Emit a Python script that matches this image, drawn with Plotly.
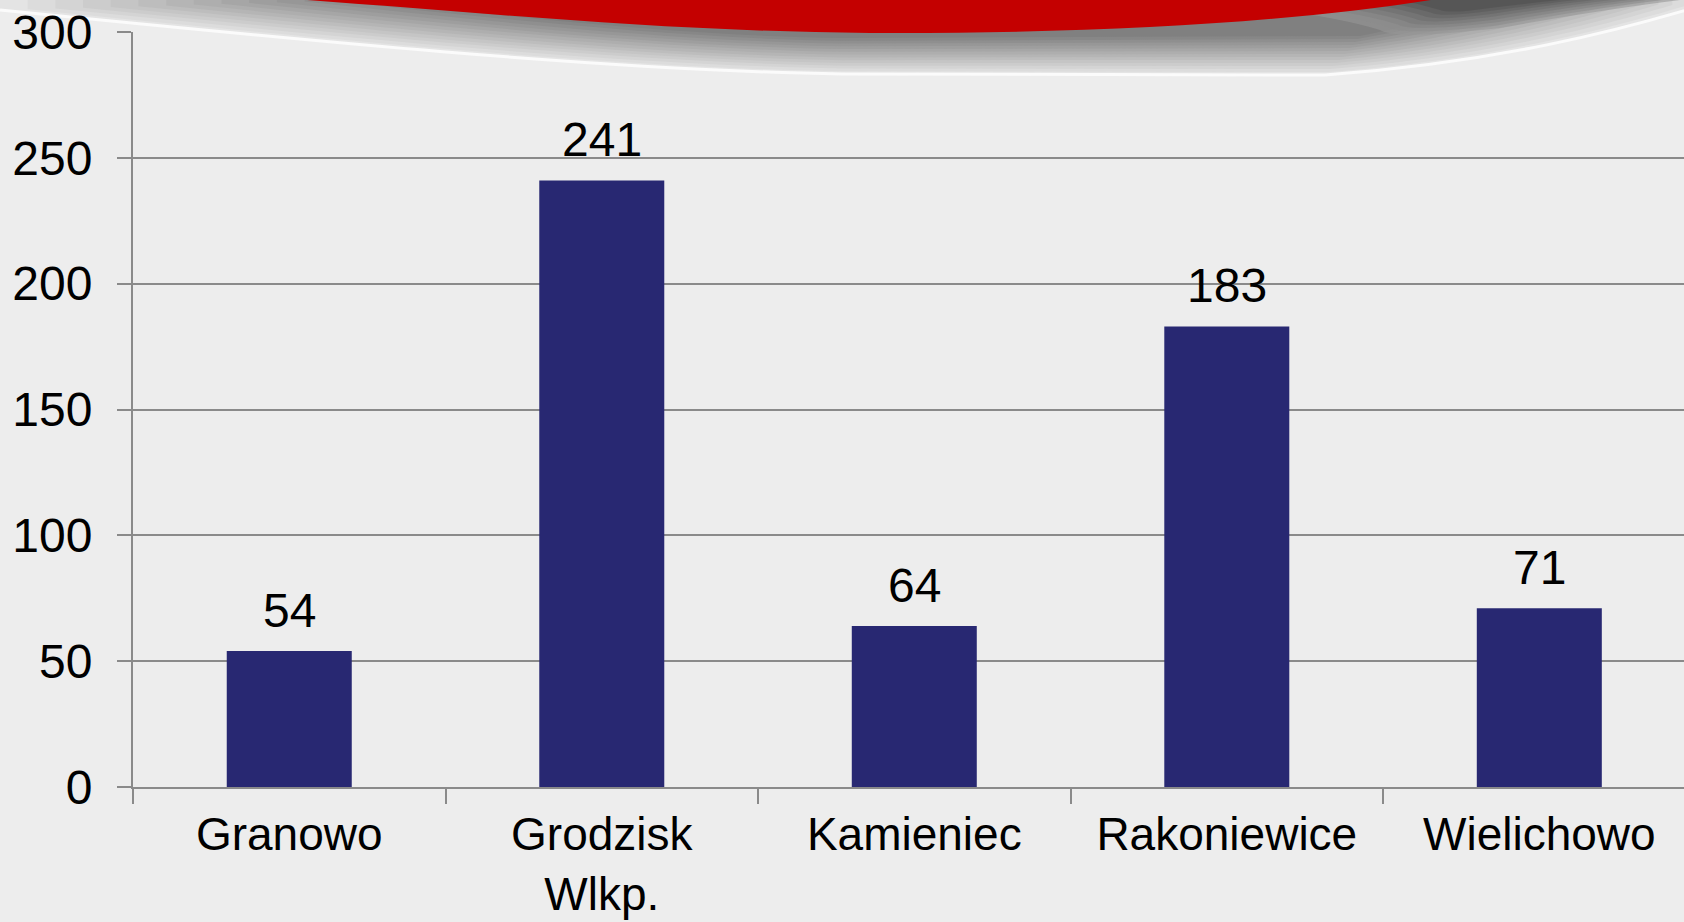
import plotly.graph_objects as go

categories = ["Granowo", "Grodzisk<br>Wlkp.", "Kamieniec", "Rakoniewice", "Wielichowo"]
values = [54, 241, 64, 183, 71]
y_ticks = [0, 50, 100, 150, 200, 250, 300]

W, H = 1684, 922
L, R, T, B = 133, 0, 32, 135
PW, PH = W - L - R, H - T - B
FONT = "Liberation Sans, Arial, sans-serif"


def px(x):
    return (x - L) / PW


def py(y):
    return (H - B - y) / PH


def path(cmds):
    out = []
    for c in cmds:
        if isinstance(c, str):
            out.append(c)
        else:
            out.append(f"{px(c[0]):.5f},{py(c[1]):.5f}")
    return " ".join(out)


shapes = []


def add(cmds, fill, opacity=1.0, line=None, lw=0):
    shapes.append(dict(
        type="path", xref="paper", yref="paper", layer="below",
        path=path(cmds), fillcolor=fill, opacity=opacity,
        line=dict(color=line or "rgba(0,0,0,0)", width=lw),
    ))


def lerp(a, b, t):
    return a + (b - a) * t


def mixpt(p, q, t):
    return (lerp(p[0], q[0], t), lerp(p[1], q[1], t))


# decorative banner: grey swoosh as a stack of layers (outer -> inner)
outer = [(0, 10), (300, 40), (600, 70), (842, 74), (1325, 75), (1500, 62), (1620, 30), (1700, 6)]
inner = [(360, 0), (520, 18), (690, 36), (842, 38), (1360, 36), (1420, 24), (1490, 8), (1520, 0)]
c_out = (228, 228, 228)
c_in = (128, 128, 128)
N = 14
for i in range(N):
    t = i / (N - 1)
    p = [mixpt(o, n, t) for o, n in zip(outer, inner)]
    col = tuple(int(lerp(a, b, t)) for a, b in zip(c_out, c_in))
    add(["M", p[0], "C", p[1], p[2], p[3], "L", p[4], "C", p[5], p[6], p[7],
         "L", (p[7][0], -5), "L", (p[0][0], -5), "Z"], f"rgb{col}")

# darker shadow on the right
dark_outer = [(1200, 0), (1330, 14), (1380, 30), (1395, 40), (1500, 28), (1600, 10), (1680, 0)]
dark_inner = [(1400, 0), (1420, 4), (1440, 10), (1450, 14), (1490, 8), (1530, 3), (1560, 0)]
c_do = (150, 150, 150)
c_di = (80, 80, 80)
M = 8
for i in range(M):
    t = i / (M - 1)
    p = [mixpt(o, n, t) for o, n in zip(dark_outer, dark_inner)]
    col = tuple(int(lerp(a, b, t)) for a, b in zip(c_do, c_di))
    add(["M", p[0], "Q", p[1], p[2], "Q", p[3], p[4], "Q", p[5], p[6], "L", (p[6][0], -5), "L", (p[0][0], -5), "Z"],
        f"rgb{col}", 0.6)

# white highlight line
add(["M", outer[0], "C", outer[1], outer[2], outer[3], "L", outer[4], "C", outer[5], outer[6], outer[7]],
    "rgba(0,0,0,0)", 1.0, "#fbfbfb", 3)
# red arc
add(["M", (279, -2), "C", (480, 12), (650, 31), (870, 33), "C", (1100, 34), (1300, 22), (1443, -2), "Z"], "#c40000")

fig = go.Figure()
fig.add_trace(go.Bar(
    x=categories, y=values,
    marker=dict(color="#282872", line=dict(width=0)),
    width=0.4,
    hoverinfo="skip",
))

for c, v in zip(categories, values):
    fig.add_annotation(
        x=c, y=v, xref="x", yref="y",
        text=str(v), showarrow=False,
        yanchor="bottom", yshift=12,
        font=dict(family=FONT, size=48, color="#000000"),
    )

fig.update_layout(
    width=W, height=H,
    margin=dict(l=L, r=R, t=T, b=B, pad=0, autoexpand=False),
    paper_bgcolor="#ededed",
    plot_bgcolor="rgba(0,0,0,0)",
    showlegend=False,
    shapes=shapes,
    xaxis=dict(
        type="category",
        range=[-0.5, 4.463],
        automargin=False,
        showgrid=False,
        showline=True, linecolor="#8a8a8a", linewidth=2,
        ticks="outside", ticklen=15, tickwidth=2, tickcolor="#8a8a8a",
        tickson="boundaries",
        tickfont=dict(family=FONT, size=46, color="#000000"),
        ticklabelstandoff=6,
        zeroline=False,
        fixedrange=True,
    ),
    yaxis=dict(
        range=[0, 300],
        automargin=False,
        tickvals=y_ticks,
        ticktext=[str(t) for t in y_ticks],
        showgrid=True, gridcolor="#8a8a8a", gridwidth=2,
        showline=True, linecolor="#8a8a8a", linewidth=2,
        ticks="outside", ticklen=14, tickwidth=2, tickcolor="#8a8a8a",
        tickfont=dict(family=FONT, size=48, color="#000000"),
        ticklabelstandoff=15,
        zeroline=False,
        fixedrange=True,
    ),
)

fig.write_html(
    "out.html",
    config={"displayModeBar": False},
    post_script="document.body.style.margin='0';document.body.style.padding='0';document.body.style.overflow='hidden';",
)
